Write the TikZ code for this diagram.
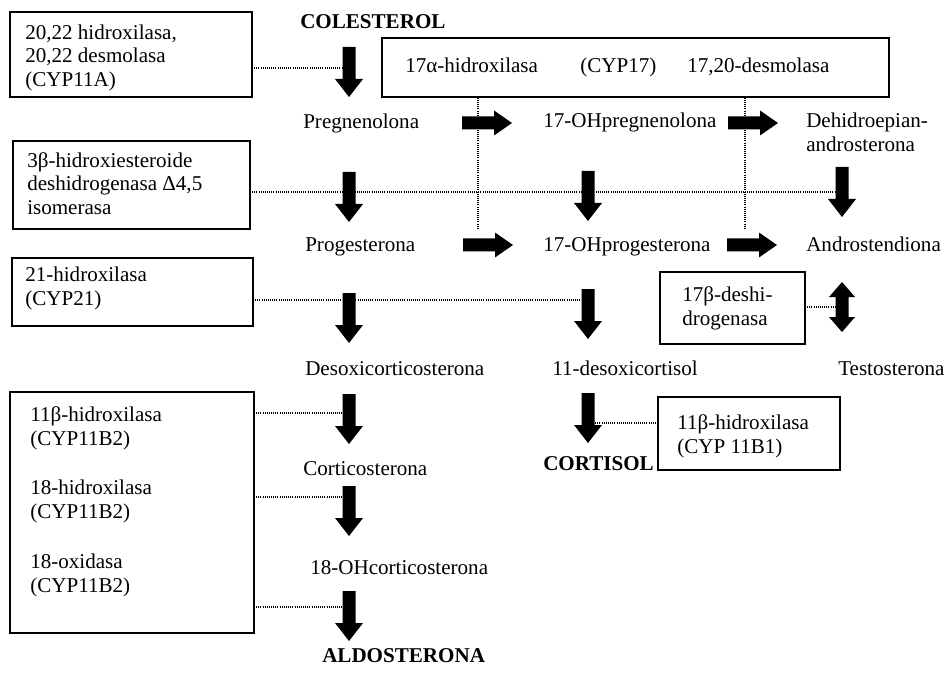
\documentclass[tikz,border=0pt]{standalone}
\usepackage{fontspec}
\setmainfont{Liberation Serif}
\usetikzlibrary{fit}
\newcommand\myfs{\fontsize{15.8}{17.8}\selectfont}
\tikzset{
  ebox/.style={draw, line width=1.1pt, inner sep=0pt},
  txt/.style={inner sep=0pt, anchor=base west, align=left, font=\myfs},
  btxt/.style={txt, font=\myfs\bfseries},
  dots/.style={line width=0.8pt, dash pattern=on 0.7pt off 0.9pt},
  darr/.pic={\fill (-6.5,0) -- (6.5,0) -- (6.5,32) -- (14,32) -- (0,50) -- (-14,32) -- (-6.5,32) -- cycle;
             \coordinate (-w) at (-6.5,25); \coordinate (-e) at (6.5,25);},
  rarr/.pic={\fill (0,-6.5) -- (32,-6.5) -- (32,-12.5) -- (50,0) -- (32,12.5) -- (32,6.5) -- (0,6.5) -- cycle;
             \coordinate (-c) at (25,0);},
  dblarr/.pic={\fill (0,0) -- (13,15) -- (6.5,15) -- (6.5,35) -- (13,35) -- (0,50) -- (-13,35) -- (-6.5,35) -- (-6.5,15) -- (-13,15) -- cycle;
             \coordinate (-w) at (-6.5,25);},
}
\begin{document}
\begin{tikzpicture}[x=0.75pt,y=-0.75pt]
\useasboundingbox (0,0) rectangle (944,673);
\fill[white] (0,0) rectangle (944,673);

% enzyme boxes
\node[ebox, fit={(10,12) (252,97)}] (b1) {};
\node[ebox, fit={(13,141) (250,229)}] (b2) {};
\node[ebox, fit={(12,258) (253,326)}] (b3) {};
\node[ebox, fit={(10,392) (254,633)}] (b4) {};
\node[ebox, fit={(382,38) (889,97)}] (tb) {};
\node[ebox, fit={(660,272) (805,344)}] (b17) {};
\node[ebox, fit={(658,397) (840,470)}] (b11) {};

% enzyme texts (multi-line nodes are placed by the baseline of their last line)
\node[txt] (t1) at (25,86.5) {20,22 hidroxilasa,\\20,22 desmolasa\\(CYP11A)};
\node[txt] (t2) at (27,214.5) {3β-hidroxiesteroide\\deshidrogenasa Δ4,5\\isomerasa};
\node[txt] (t3) at (25,305.7) {21-hidroxilasa\\(CYP21)};
\node[txt] (t4a) at (30,445.7) {11β-hidroxilasa\\(CYP11B2)};
\node[txt] (t4b) at (30,518.7) {18-hidroxilasa\\(CYP11B2)};
\node[txt] (t4c) at (30,592.7) {18-oxidasa\\(CYP11B2)};
\node[txt] (tta) at (405,73) {17α-hidroxilasa};
\node[txt] (ttb) at (580,73) {(CYP17)};
\node[txt] (ttc) at (687,73) {17,20-desmolasa};
\node[txt] (t17) at (682,325.7) {17β-deshi-\\drogenasa};
\node[txt] (t11) at (677,453.7) {11β-hidroxilasa\\(CYP 11B1)};

% steroids
\node[btxt] (col) at (300,29) {COLESTEROL};
\node[txt] (preg) at (303,129) {Pregnenolona};
\node[txt] (ohpreg) at (543,128) {17-OHpregnenolona};
\node[txt] (dhea) at (806,151.7) {Dehidroepian-\\androsterona};
\node[txt] (prog) at (305,252) {Progesterona};
\node[txt] (ohprog) at (543,252) {17-OHprogesterona};
\node[txt] (andro) at (806,252) {Androstendiona};
\node[txt] (doc) at (305,375) {Desoxicorticosterona};
\node[txt] (desox) at (552,375) {11-desoxicortisol};
\node[txt] (testo) at (838,375) {Testosterona};
\node[txt] (cort) at (303,475) {Corticosterona};
\node[btxt] (cortisol) at (543,470) {CORTISOL};
\node[txt] (ohcort) at (310,574) {18-OHcorticosterona};
\node[btxt] (aldo) at (322,662) {ALDOSTERONA};

% block arrows
\pic (a1) at (349,47) {darr};
\pic (a2) at (349,172) {darr};
\pic (a3) at (349,293) {darr};
\pic (a4) at (349,394) {darr};
\pic (a5) at (349,486) {darr};
\pic (a6) at (349,591) {darr};
\pic (m1) at (588,171) {darr};
\pic (m2) at (588,289) {darr};
\pic (m3) at (588,393) {darr};
\pic (r1) at (842,167) {darr};
\pic (dd) at (842,282) {dblarr};
\pic (h1) at (462,123) {rarr};
\pic (h2) at (463,245) {rarr};
\pic (h3) at (728,123) {rarr};
\pic (h4) at (727,245) {rarr};

% dotted connectors
\coordinate (d1) at (252,68);
\coordinate (d2) at (250,192);
\coordinate (d3) at (253,300);
\coordinate (d4) at (254,413);
\coordinate (d5) at (254,497);
\coordinate (d6) at (254,607);
\coordinate (d7) at (805,307);
\coordinate (d8) at (658,423);
\coordinate (v1) at (478,228);
\coordinate (v2) at (745,228);
\draw[dots] (d1) -- (d1 -| a1-w);
\draw[dots] (d2) -- (d2 -| r1-w);
\draw[dots] (d3) -- (d3 -| m2-w);
\draw[dots] (d4) -- (d4 -| a4-w);
\draw[dots] (d5) -- (d5 -| a5-w);
\draw[dots] (d6) -- (d6 -| a6-w);
\draw[dots] (d7) -- (d7 -| dd-w);
\draw[dots] (d8) -- (d8 -| m3-e);
\draw[dots] (v1 |- tb.south) -- (v1);
\draw[dots] (v2 |- tb.south) -- (v2);
\end{tikzpicture}
\end{document}
